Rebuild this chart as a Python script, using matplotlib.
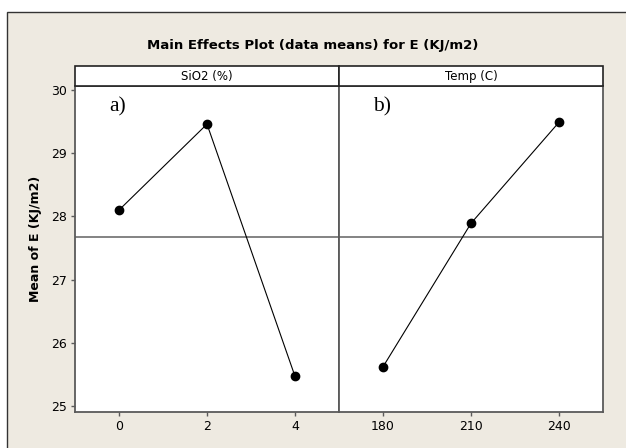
import matplotlib
matplotlib.use("Agg")
import matplotlib.pyplot as plt
from matplotlib.patches import Rectangle
import numpy as np

# ── Data ─────────────────────────────────────────────────────────────────────
sio2_levels = [0, 2, 4]
sio2_means = [28.10, 29.46, 25.47]
temp_levels = [180, 210, 240]
temp_means = [25.62, 27.89, 29.49]
panel_titles = ["SiO2 (%)", "Temp (C)"]
panel_tags = ["a)", "b)"]
y_ticks = [25, 26, 27, 28, 29, 30]

grand_mean = np.mean(sio2_means + temp_means)

BG = "#EEEAE1"
SPINE = "#5A5A5A"

W, H = 626, 448
fig = plt.figure(figsize=(W / 100, H / 100), dpi=100)
fig.patch.set_facecolor("white")

def fx(px):
    return px / W

def fy(py):
    return 1 - py / H

# outer beige frame (cropped at right and bottom like the original)
frame = Rectangle((fx(7), -0.05), 1.2, fy(11.7) + 0.05, transform=fig.transFigure,
                  facecolor=BG, edgecolor="#333333", linewidth=1.0, zorder=-5)
fig.patches.append(frame)

fig.text(fx(313), fy(45), "Main Effects Plot (data means) for E (KJ/m2)",
         ha="center", va="center", fontsize=9.5, fontweight="bold")

ax_top, ax_bot = 86, 412
lefts = [75, 339]
width = 264
axes = []
for i, left in enumerate(lefts):
    ax = fig.add_axes([fx(left), fy(ax_bot), fx(width), (ax_bot - ax_top) / H])
    axes.append(ax)
    # strip header
    strip = Rectangle((fx(left), fy(ax_top)), fx(width), (ax_top - 66.3) / H,
                      transform=fig.transFigure, facecolor="white",
                      edgecolor="#222222", linewidth=1.2, zorder=3)
    fig.patches.append(strip)
    fig.text(fx(left + width / 2), fy(76), panel_titles[i], ha="center",
             va="center", fontsize=8.5, zorder=4)

series = [(sio2_levels, sio2_means, (-1, 5)), (temp_levels, temp_means, (165, 255))]
for i, (ax, (xs, ys, xlim)) in enumerate(zip(axes, series)):
    ax.set_facecolor("white")
    ax.axhline(grand_mean, color="#6E6E6E", linewidth=1.2, zorder=1)
    ax.plot(xs, ys, color="black", linewidth=0.8, marker="o", markersize=6,
            zorder=3, clip_on=False)
    ax.set_xlim(*xlim)
    ax.set_ylim(24.905, 30.063)
    ax.set_xticks(xs)
    ax.set_yticks(y_ticks)
    for s in ax.spines.values():
        s.set_color(SPINE)
        s.set_linewidth(1.3)
    ax.tick_params(length=3, width=1, color=SPINE, labelsize=9, pad=3)
    if i == 1:
        ax.tick_params(axis="y", left=False, labelleft=False)
    ax.text(0.13, 0.935, panel_tags[i], transform=ax.transAxes, ha="left",
            va="center", fontsize=15.5, family="Liberation Serif")

fig.text(fx(35), fy(239), "Mean of E (KJ/m2)", rotation=90, ha="center",
         va="center", fontsize=9, fontweight="bold")

fig.savefig("out.png", dpi=100, facecolor="white")
